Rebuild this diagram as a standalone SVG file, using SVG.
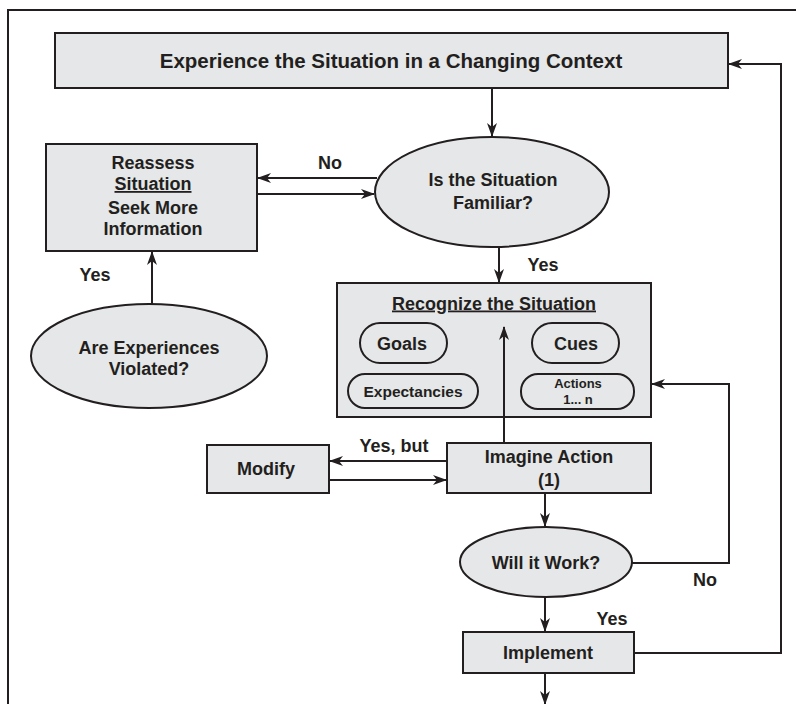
<svg xmlns="http://www.w3.org/2000/svg" width="796" height="704" viewBox="0 0 796 704">
<style>
.box{fill:#e6e7e8;stroke:#231f20;stroke-width:2}
.pill{fill:none;stroke:#231f20;stroke-width:2}
.t{font-family:"Liberation Sans",Arial,sans-serif;font-weight:bold;fill:#231f20;text-anchor:middle;font-size:18px}
.c{fill:none;stroke:#231f20;stroke-width:2}
</style>
<defs>
<marker id="ah" viewBox="0 0 14 10" refX="13" refY="5" markerWidth="14" markerHeight="10" markerUnits="userSpaceOnUse" orient="auto">
<path d="M0,0 L14,5 L0,10 L4,5 Z" fill="#231f20"/>
</marker>
</defs>
<rect width="796" height="704" fill="#fff"/>
<path d="M8,704 V10 H796" fill="none" stroke="#231f20" stroke-width="2"/>
<g id="experience">
<rect class="box" x="55" y="33" width="673" height="55"/>
<text class="t" x="391" y="68" style="font-size:20.5px">Experience the Situation in a Changing Context</text>
</g>
<g id="familiar">
<ellipse class="box" cx="492" cy="192" rx="117" ry="55"/>
<text class="t" x="493" y="185.5">Is the Situation</text>
<text class="t" x="493" y="208.5">Familiar?</text>
</g>
<g id="reassess">
<rect class="box" x="46" y="144" width="211" height="107"/>
<text class="t" x="153" y="168.5">Reassess</text>
<text class="t" x="153" y="190" text-decoration="underline">Situation</text>
<text class="t" x="153" y="213.5">Seek More</text>
<text class="t" x="153" y="235">Information</text>
</g>
<g id="violated">
<ellipse class="box" cx="149" cy="356" rx="118" ry="52"/>
<text class="t" x="149" y="353.5">Are Experiences</text>
<text class="t" x="149" y="374.5">Violated?</text>
</g>
<g id="recognize">
<rect class="box" x="337" y="283" width="314" height="134"/>
<text class="t" x="494" y="309.5" text-decoration="underline">Recognize the Situation</text>
<rect class="pill" x="360" y="323" width="87" height="40" rx="20"/>
<text class="t" x="402" y="349.5">Goals</text>
<rect class="pill" x="532" y="323" width="87" height="40" rx="20"/>
<text class="t" x="576" y="349.5">Cues</text>
<rect class="pill" x="348" y="374" width="130" height="34" rx="17"/>
<text class="t" x="413" y="396.5" style="font-size:15.5px">Expectancies</text>
<rect class="pill" x="521" y="374" width="113" height="35" rx="17"/>
<text class="t" x="578" y="387.5" style="font-size:13px">Actions</text>
<text class="t" x="578" y="403.5" style="font-size:13px">1... n</text>
</g>
<g id="modify">
<rect class="box" x="207" y="445" width="122" height="48"/>
<text class="t" x="266" y="474.5">Modify</text>
</g>
<g id="imagine">
<rect class="box" x="447" y="443" width="204" height="50"/>
<text class="t" x="549" y="462.5">Imagine Action</text>
<text class="t" x="549" y="485.5">(1)</text>
</g>
<g id="work">
<ellipse class="box" cx="546" cy="562" rx="86" ry="35"/>
<text class="t" x="546" y="568.5">Will it Work?</text>
</g>
<g id="implement">
<rect class="box" x="463" y="632" width="171" height="41"/>
<text class="t" x="548" y="658.5">Implement</text>
</g>
<g id="connectors">
<path class="c" d="M492,89 V136" marker-end="url(#ah)"/>
<path class="c" d="M377,178 H258" marker-end="url(#ah)"/>
<path class="c" d="M258,194 H374" marker-end="url(#ah)"/>
<path class="c" d="M152,304 V252" marker-end="url(#ah)"/>
<path class="c" d="M499,248 V282" marker-end="url(#ah)"/>
<path class="c" d="M504,443 V327" marker-end="url(#ah)"/>
<path class="c" d="M447,461 H330" marker-end="url(#ah)"/>
<path class="c" d="M329,480 H446" marker-end="url(#ah)"/>
<path class="c" d="M545,493 V526" marker-end="url(#ah)"/>
<path class="c" d="M632,563 H729 V384 H652" marker-end="url(#ah)"/>
<path class="c" d="M545,597 V631" marker-end="url(#ah)"/>
<path class="c" d="M634,653 H781 V64 H729" marker-end="url(#ah)"/>
<path class="c" d="M545,673 V704" marker-end="url(#ah)"/>
<text class="t" x="330" y="168.5">No</text>
<text class="t" x="95" y="280.5">Yes</text>
<text class="t" x="543" y="270.5">Yes</text>
<text class="t" x="394" y="451.5">Yes, but</text>
<text class="t" x="705" y="585.5">No</text>
<text class="t" x="612" y="624.5">Yes</text>
</g>
</svg>
